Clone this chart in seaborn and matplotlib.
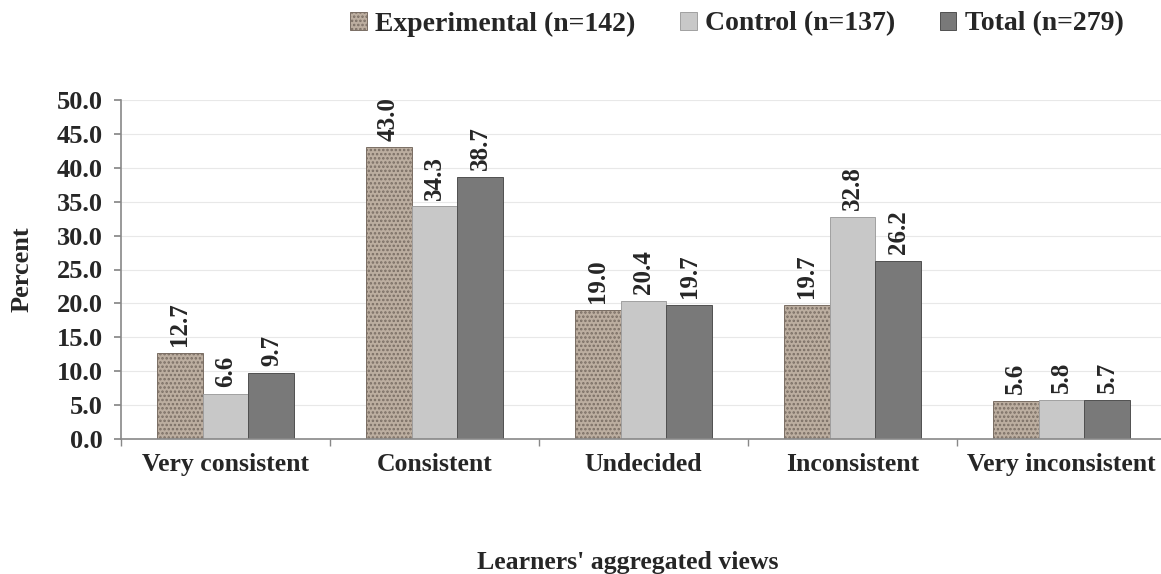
import numpy as np
import pandas as pd
import seaborn as sns
import matplotlib.pyplot as plt
from matplotlib.ticker import FormatStrFormatter, FixedLocator

categories = ['Very consistent', 'Consistent', 'Undecided', 'Inconsistent', 'Very inconsistent']
groups = ['Experimental (n=142)', 'Control (n=137)', 'Total (n=279)']
experimental = [12.7, 43.0, 19.0, 19.7, 5.6]
control = [6.6, 34.3, 20.4, 32.8, 5.8]
total = [9.7, 38.7, 19.7, 26.2, 5.7]

df = pd.DataFrame({
    'view': categories * 3,
    'group': [groups[0]] * 5 + [groups[1]] * 5 + [groups[2]] * 5,
    'percent': experimental + control + total,
})

sns.set_theme(style='white')
plt.rcParams['font.family'] = ['Liberation Serif', 'DejaVu Serif']
plt.rcParams['font.weight'] = 'bold'
plt.rcParams['hatch.linewidth'] = 1.2

fig = plt.figure(figsize=(11.61, 5.74), dpi=100)
ax = fig.add_axes([121 / 1161, 1 - 439 / 574, 1045 / 1161, 339 / 574])

palette = {groups[0]: '#bcaea0', groups[1]: '#c8c8c8', groups[2]: '#797979'}
sns.barplot(data=df, x='view', y='percent', hue='group', palette=palette,
            width=0.66, gap=0, saturation=1, ax=ax, legend=False)

# speckled texture approximated with a dot hatch
edge = {0: '#7a6e64', 1: '#a0a0a0', 2: '#505050'}
for i, cont in enumerate(ax.containers):
    for bar in cont:
        bar.set_edgecolor(edge[i])
        bar.set_linewidth(0.7)
        if i == 0:
            bar.set_hatch('....')
    ax.bar_label(cont, fmt='%.1f', rotation=90, padding=5, fontsize=18,
                 fontweight='bold')

ax.set_xlim(-0.5, 4.5)
ax.set_ylim(0, 50)
ax.set_yticks(np.arange(0, 50.1, 5))
ax.yaxis.set_major_formatter(FormatStrFormatter('%.1f'))
ax.yaxis.grid(True, color='#e8e8e8', linewidth=0.8)
ax.set_axisbelow(True)

for s in ['top', 'right']:
    ax.spines[s].set_visible(False)
for s in ['left', 'bottom']:
    ax.spines[s].set_color('#888888')
    ax.spines[s].set_linewidth(1.2)

ax.tick_params(axis='y', which='major', left=True, length=5, color='#888888',
               labelsize=19, pad=8)
ax.tick_params(axis='x', which='major', bottom=False, labelsize=18.5, pad=4)
ax.xaxis.set_minor_locator(FixedLocator(np.arange(-0.5, 4.5, 1)))
ax.tick_params(axis='x', which='minor', bottom=True, length=5, color='#888888')
for lab in ax.get_xticklabels() + ax.get_yticklabels():
    lab.set_fontweight('bold')

ax.set_ylabel('Percent', fontsize=19, fontweight='bold', va='center')
ax.yaxis.set_label_coords(-99 / 1045, 0.5)
ax.set_xlabel("Learners' aggregated views", fontsize=18.5, fontweight='bold', va='center')
ax.xaxis.set_label_coords((628 - 121) / 1045, -124 / 339)

handles = [plt.Rectangle((0, 0), 1, 1, facecolor=palette[g], edgecolor=edge[i],
                         hatch='....' if i == 0 else None, linewidth=0.7)
           for i, g in enumerate(groups)]
fig.legend(handles, groups, loc='center', bbox_to_anchor=(737 / 1161, 1 - 24 / 574),
           ncol=3, frameon=False, handlelength=0.6, handleheight=0.6,
           handletextpad=0.3, columnspacing=1.6,
           prop={'size': 20, 'weight': 'bold'})

fig.savefig('out.png', dpi=100)
